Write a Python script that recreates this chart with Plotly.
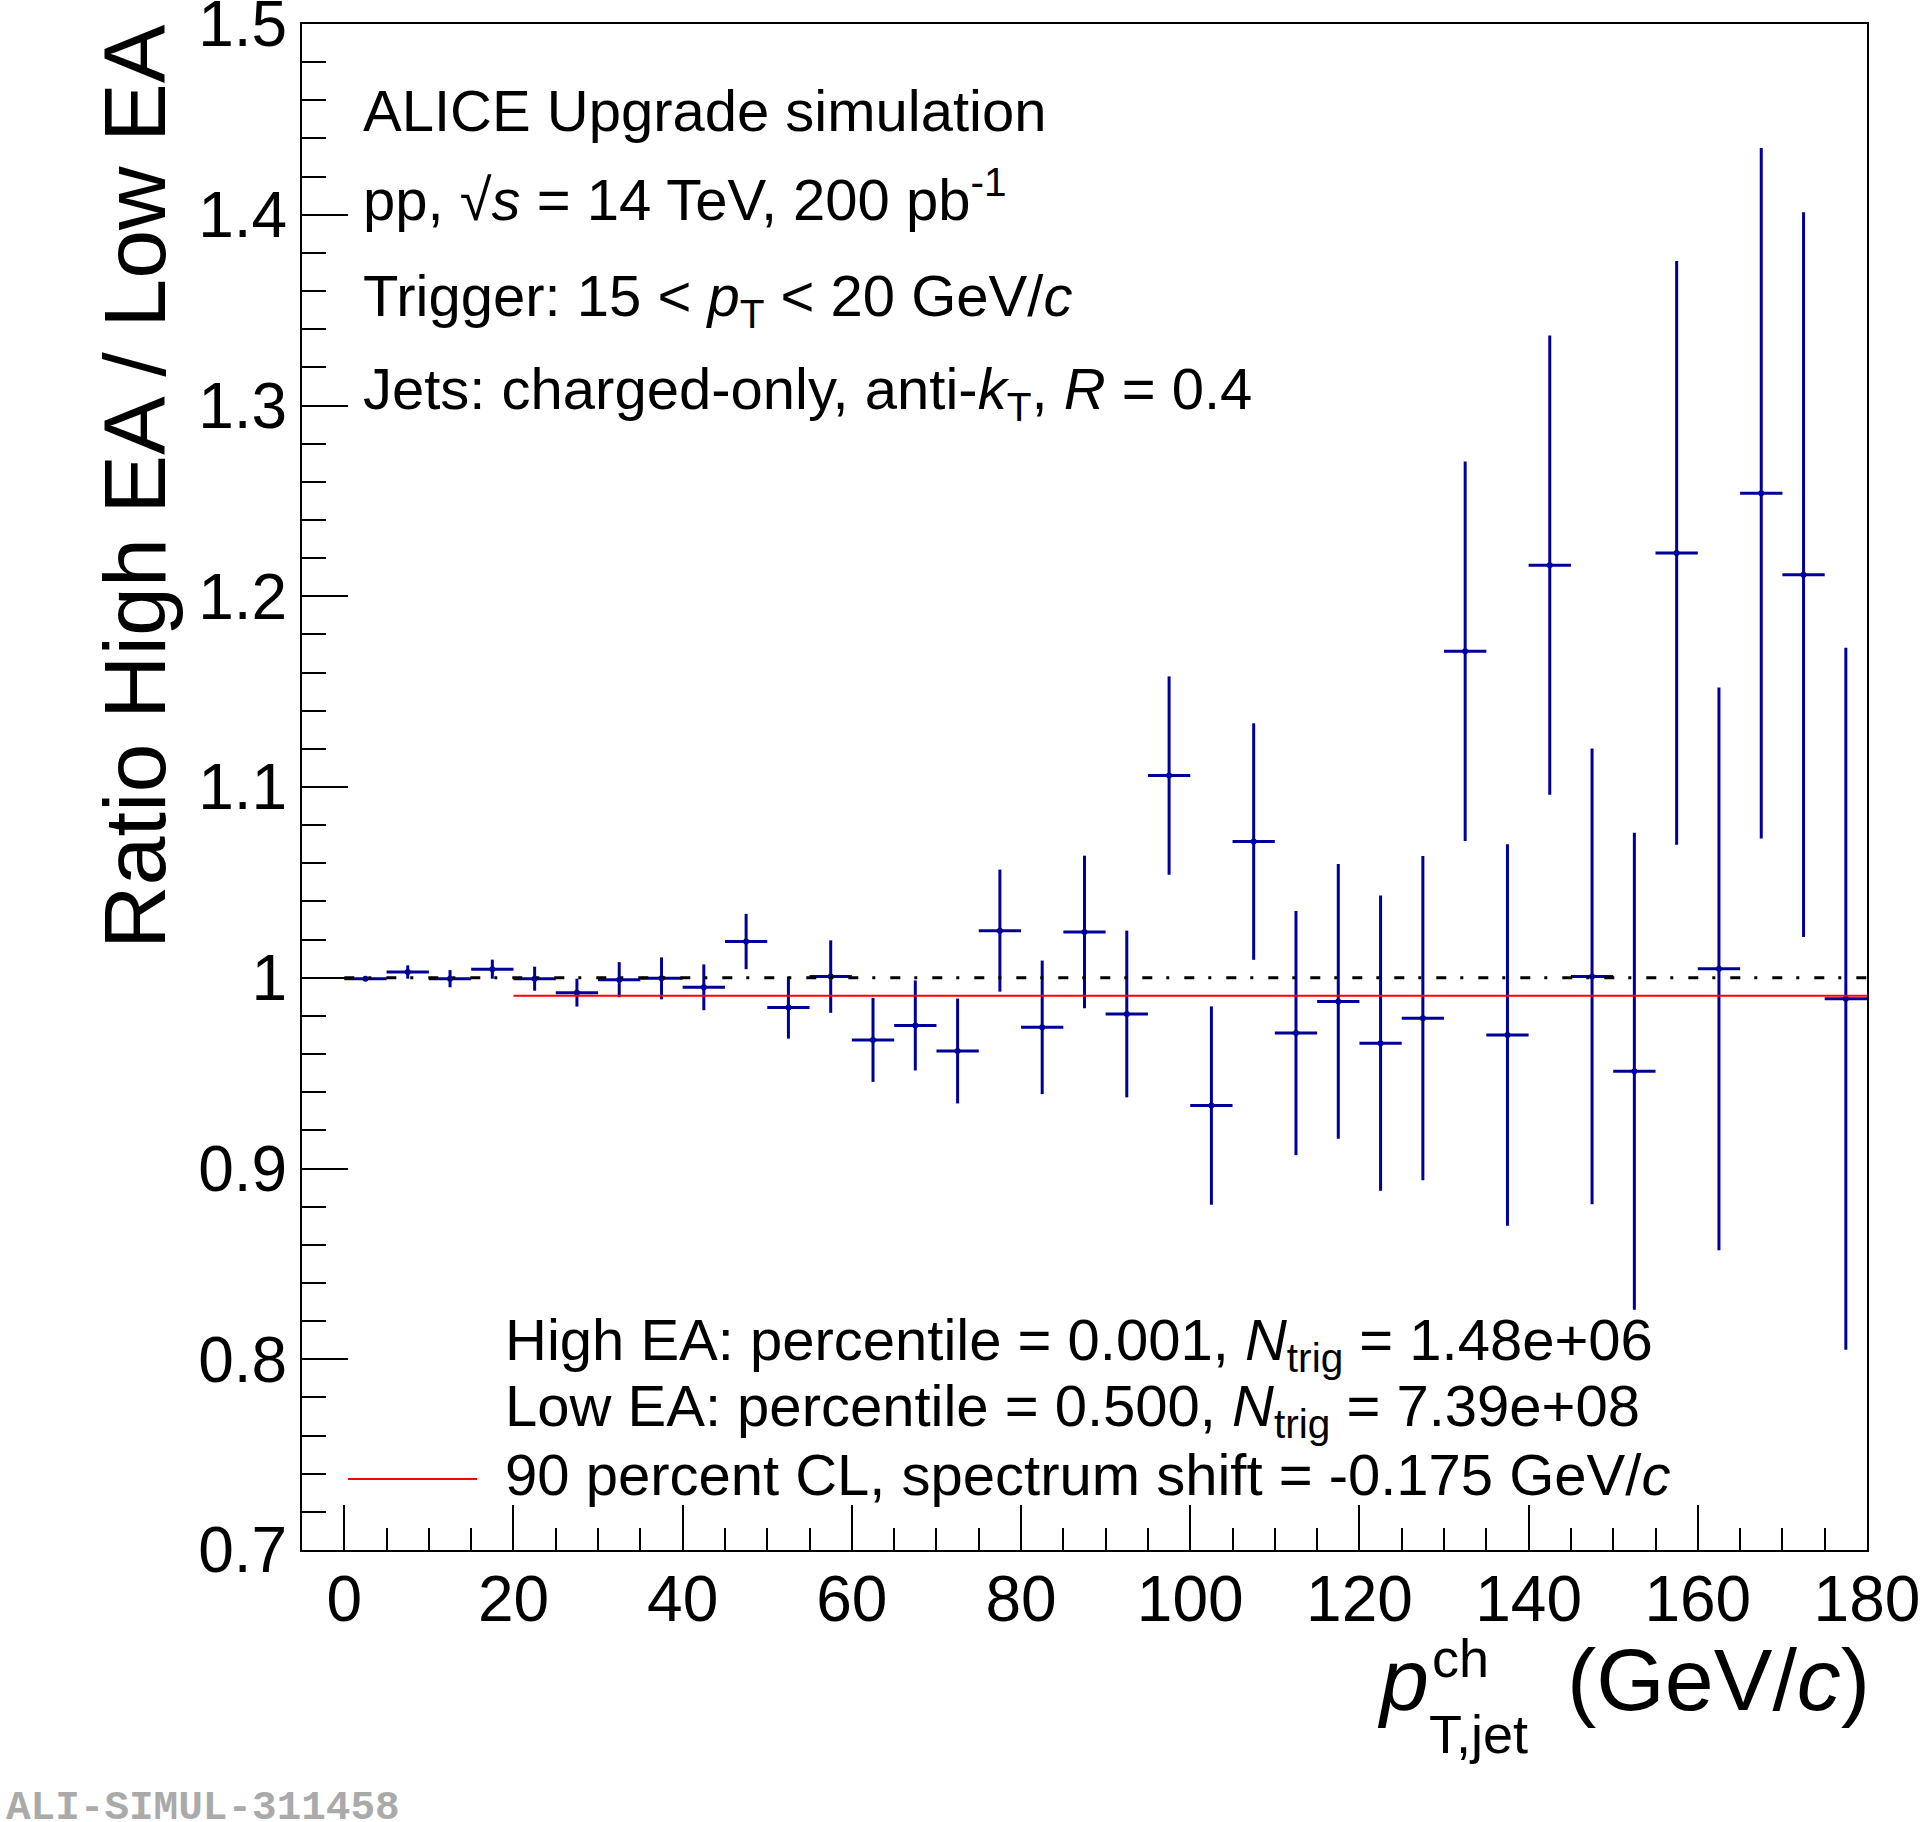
import plotly.graph_objects as go

# ---------------- data ----------------
pt_centers = [2.5, 7.5, 12.5, 17.5, 22.5, 27.5, 32.5, 37.5, 42.5, 47.5, 52.5, 57.5,
              62.5, 67.5, 72.5, 77.5, 82.5, 87.5, 92.5, 97.5, 102.5, 107.5, 112.5, 117.5,
              122.5, 127.5, 132.5, 137.5, 142.5, 147.5, 152.5, 157.5, 162.5, 167.5, 172.5, 177.5]
ratio = [0.9995, 1.003, 0.9995, 1.0045, 0.9995, 0.9922, 0.999, 0.9997, 0.995, 1.019, 0.9844, 1.0006,
         0.9674, 0.975, 0.9616, 1.0247, 0.974, 1.024, 0.981, 1.106, 0.933, 1.0714, 0.971, 0.9876,
         0.9657, 0.9788, 1.1712, 0.970, 1.2163, 1.0007, 0.951, 1.2227, 1.0047, 1.254, 1.2113, 0.989]
ratio_err = [0.0008, 0.0035, 0.0045, 0.005, 0.0063, 0.0073, 0.0092, 0.011, 0.012, 0.0145, 0.0163, 0.019,
             0.022, 0.0236, 0.0275, 0.032, 0.035, 0.040, 0.0437, 0.052, 0.052, 0.062, 0.064, 0.072,
             0.0774, 0.085, 0.0995, 0.100, 0.1204, 0.1195, 0.125, 0.153, 0.1475, 0.181, 0.190, 0.184]
bin_half_width = 2.5

unity_x = [0, 180]
unity_y = [1.0, 1.0]
cl_x = [20, 180]
cl_y = [0.9905, 0.9905]

x_range = [-5, 180.001]
y_range = [0.7, 1.500001]
x_tickvals = [0, 20, 40, 60, 80, 100, 120, 140, 160, 180]
x_ticktext = ["0", "20", "40", "60", "80", "100", "120", "140", "160", "180"]
y_tickvals = [0.7, 0.8, 0.9, 1.0, 1.1, 1.2, 1.3, 1.4, 1.5]
y_ticktext = ["0.7", "0.8", "0.9", "1", "1.1", "1.2", "1.3", "1.4", "1.5"]

# ---------------- geometry ----------------
W, H = 1920, 1822
L, R, T, B = 302, 1867, 24, 1550
FONT = "Liberation Sans, Arial, Helvetica, sans-serif"
BLUE = "#000099"


def px(xp):
    return (xp - L) / (R - L)


def py(yp):
    return (B - yp) / (B - T)


fig = go.Figure()

fig.add_trace(go.Scatter(
    x=pt_centers, y=ratio, mode="markers",
    marker=dict(size=0, color=BLUE),
    error_x=dict(type="constant", value=bin_half_width, width=0, thickness=3, color=BLUE),
    error_y=dict(type="data", array=ratio_err, width=0, thickness=3, color=BLUE),
    showlegend=False, hoverinfo="skip",
))
fig.add_trace(go.Scatter(
    x=unity_x, y=unity_y, mode="lines",
    line=dict(color="black", width=3, dash="10px,14px,3px,15px"),
    showlegend=False, hoverinfo="skip",
))
fig.add_trace(go.Scatter(
    x=cl_x, y=cl_y, mode="lines",
    line=dict(color="#ff0000", width=2),
    showlegend=False, hoverinfo="skip",
))

axis_common = dict(
    showline=True, linecolor="black", linewidth=2, mirror=True,
    ticks="inside", tickcolor="black", tickwidth=2,
    showgrid=False, zeroline=False, ticklabeloverflow="allow", automargin=False,
    tickfont=dict(family=FONT, size=64, color="black"),
)

fig.update_xaxes(
    range=x_range, tickmode="array", tickvals=x_tickvals, ticktext=x_ticktext,
    ticklen=45, ticklabelstandoff=-8,
    minor=dict(dtick=5, tick0=0, ticklen=22, ticks="inside", tickwidth=2,
               tickcolor="black", showgrid=False),
    **axis_common,
)
fig.update_yaxes(
    range=y_range, tickmode="array", tickvals=y_tickvals, ticktext=y_ticktext,
    ticklen=46,
    minor=dict(dtick=0.02, tick0=0.7, ticklen=24, ticks="inside", tickwidth=2,
               tickcolor="black", showgrid=False),
    **axis_common,
)

annotations = []


def add_text(text, x_px, y_px, size, xanchor="left", yanchor="top", color="black", family=FONT, angle=0):
    annotations.append(dict(
        text=text, x=px(x_px), y=py(y_px), xref="paper", yref="paper",
        xanchor=xanchor, yanchor=yanchor, showarrow=False, textangle=angle,
        font=dict(family=family, size=size, color=color),
    ))


TS = 58
asc = 0.905 * TS
desc = 0.212 * TS
add_text("ALICE Upgrade simulation", 361, 128 - asc, TS)
add_text("pp, √<i>s</i> = 14 TeV, 200 pb<sup>-1</sup>", 361, 222 + desc, TS, yanchor="bottom")
add_text("Trigger: 15 &lt; <i>p</i><sub>T</sub> &lt; 20 GeV/<i>c</i>", 361, 313 - asc, TS)
add_text("Jets: charged-only, anti-<i>k</i><sub>T</sub>, <i>R</i> = 0.4", 361, 406 - asc, TS)

add_text("High EA: percentile = 0.001, <i>N</i><sub>trig</sub> = 1.48e+06", 503, 1357 - asc, TS)
add_text("Low EA: percentile = 0.500, <i>N</i><sub>trig</sub> = 7.39e+08", 503, 1423 - asc, TS)
add_text("90 percent CL, spectrum shift = -0.175 GeV/<i>c</i>", 503, 1492 - asc, TS)

# axis titles
TT = 88
add_text("(GeV/<i>c</i>)", 1872, 1708 - 0.905 * TT, TT, xanchor="right")
add_text("<i>p</i>", 1375, 1708 - 0.905 * TT, TT)
SS = 54
add_text("ch", 1430, 1675 - 0.905 * SS, SS)
add_text("T,jet", 1427, 1751 - 0.905 * SS, SS)
add_text("Ratio High EA / Low EA", 135, 487, TT, xanchor="center", yanchor="middle", angle=-90)

# watermark
add_text("<b>ALI-SIMUL-311458</b>", 4, 1817 - 0.83 * 41, 41, color="#aaaaaa",
         family="Liberation Mono, Courier New, monospace")

fig.update_layout(
    width=W, height=H,
    margin=dict(l=L, r=W - R, t=T, b=H - B, pad=0, autoexpand=False),
    paper_bgcolor="white", plot_bgcolor="white",
    annotations=annotations,
    shapes=[dict(type="line", xref="paper", yref="paper",
                 x0=px(348), x1=px(477), y0=py(1479), y1=py(1479),
                 line=dict(color="#ff0000", width=2))],
    showlegend=False,
)

fig.write_html("out.html")
